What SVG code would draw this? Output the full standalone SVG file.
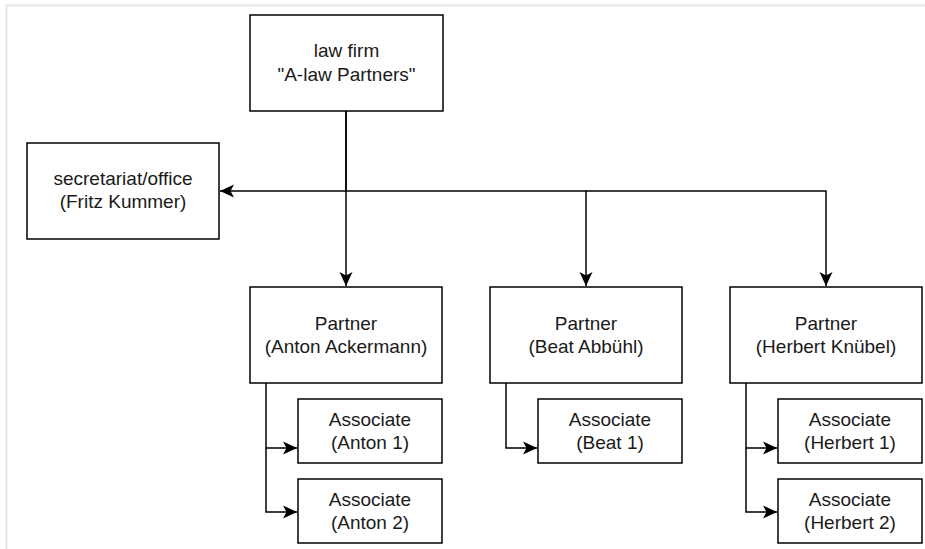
<svg xmlns="http://www.w3.org/2000/svg" width="925" height="549" viewBox="0 0 925 549">
<style>
.box{fill:#fff;stroke:#000;stroke-width:1.5}
.t{font-family:"Liberation Sans",Arial,sans-serif;font-size:19px;fill:#1a1a1a;text-anchor:middle}
.c{fill:none;stroke:#000;stroke-width:1.5}
.frame{fill:none;stroke:#e6e6e6;stroke-width:2}
</style>
<defs>
<marker id="arr" markerUnits="userSpaceOnUse" markerWidth="16" markerHeight="16" viewBox="-15 -8 16 16" refX="0" refY="0" orient="auto">
<path d="M0,0 L-14,-6.5 L-10.5,0 L-14,6.5 Z" fill="#000"/>
</marker>
</defs>
<rect width="925" height="549" fill="#fff"/>
<path class="frame" d="M925,5.5 H6.5 V549"/>
<g id="connectors">
<path class="c" d="M346,111 V191 H220" marker-end="url(#arr)"/>
<path class="c" d="M346,111 V286" marker-end="url(#arr)"/>
<path class="c" d="M346,191 H586 V286" marker-end="url(#arr)"/>
<path class="c" d="M586,191 H826 V286" marker-end="url(#arr)"/>
<path class="c" d="M266,383 V448 H297" marker-end="url(#arr)"/>
<path class="c" d="M266,448 V512 H297" marker-end="url(#arr)"/>
<path class="c" d="M506,383 V448 H537" marker-end="url(#arr)"/>
<path class="c" d="M746,383 V448 H777" marker-end="url(#arr)"/>
<path class="c" d="M746,448 V512 H777" marker-end="url(#arr)"/>
</g>
<g id="lawfirm">
<rect class="box" x="250" y="15" width="193" height="96"/>
<text class="t" x="346.5" y="57">law firm</text>
<text class="t" x="346.5" y="81">"A-law Partners"</text>
</g>
<g id="secretariat">
<rect class="box" x="27" y="143" width="192" height="96"/>
<text class="t" x="123" y="185">secretariat/office</text>
<text class="t" x="123" y="208">(Fritz Kummer)</text>
</g>
<g id="partner-anton">
<rect class="box" x="250" y="287" width="192" height="96"/>
<text class="t" x="346" y="330">Partner</text>
<text class="t" x="346" y="353">(Anton Ackermann)</text>
</g>
<g id="partner-beat">
<rect class="box" x="490" y="287" width="192" height="96"/>
<text class="t" x="586" y="330">Partner</text>
<text class="t" x="586" y="353">(Beat Abbühl)</text>
</g>
<g id="partner-herbert">
<rect class="box" x="730" y="287" width="192" height="96"/>
<text class="t" x="826" y="330">Partner</text>
<text class="t" x="826" y="353">(Herbert Knübel)</text>
</g>
<g id="assoc-anton1">
<rect class="box" x="298" y="399" width="144" height="64"/>
<text class="t" x="370" y="426">Associate</text>
<text class="t" x="370" y="449">(Anton 1)</text>
</g>
<g id="assoc-anton2">
<rect class="box" x="298" y="479" width="144" height="64"/>
<text class="t" x="370" y="506">Associate</text>
<text class="t" x="370" y="529">(Anton 2)</text>
</g>
<g id="assoc-beat1">
<rect class="box" x="538" y="399" width="144" height="64"/>
<text class="t" x="610" y="426">Associate</text>
<text class="t" x="610" y="449">(Beat 1)</text>
</g>
<g id="assoc-herbert1">
<rect class="box" x="778" y="399" width="144" height="64"/>
<text class="t" x="850" y="426">Associate</text>
<text class="t" x="850" y="449">(Herbert 1)</text>
</g>
<g id="assoc-herbert2">
<rect class="box" x="778" y="479" width="144" height="64"/>
<text class="t" x="850" y="506">Associate</text>
<text class="t" x="850" y="529">(Herbert 2)</text>
</g>
</svg>
